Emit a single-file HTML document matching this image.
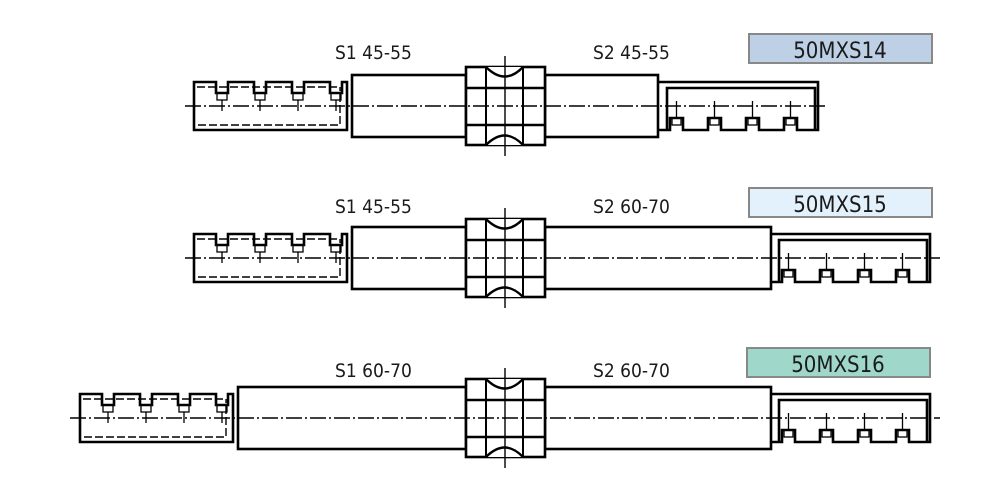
<!DOCTYPE html>
<html><head><meta charset="utf-8"><style>
html,body{margin:0;padding:0;background:#fff;}
svg{display:block}
text{font-family:"DejaVu Sans Condensed","Liberation Sans",sans-serif;fill:#1a1a1a;}
</style></head><body>
<svg width="1000" height="496" viewBox="0 0 1000 496" xmlns="http://www.w3.org/2000/svg">
<defs>
<g id="hub" fill="none" stroke="#000">
  <rect x="466" y="-39" width="79" height="78" stroke-width="2.6" fill="#fff"/>
  <line x1="486" y1="-39" x2="486" y2="39" stroke-width="2"/>
  <line x1="523" y1="-39" x2="523" y2="39" stroke-width="2"/>
  <line x1="466" y1="-18" x2="545" y2="-18" stroke-width="2.4"/>
  <line x1="466" y1="19" x2="545" y2="19" stroke-width="2.4"/>
  <path d="M486,-39 Q505,-20 523,-39" stroke-width="2.4" fill="#fff"/>
  <path d="M486,39 Q505,20 523,39" stroke-width="2.4" fill="#fff"/>
  <line x1="505" y1="-50" x2="505" y2="50" stroke-width="1.4"/>
</g>
<g id="lsp" fill="none" stroke="#000">
  <path d="M194,-24 H216 V-13 H228 V-24 H254 V-13 H266 V-24 H292 V-13 H304 V-24 H330 V-13 H342 V-24 H347 V24 H194 Z" stroke-width="2.6"/>
  <line x1="197" y1="-19" x2="340" y2="-19" stroke-width="1.4" stroke-dasharray="8 3"/>
  <path d="M198,19 H340 V-19" stroke-width="1.4" stroke-dasharray="8 3"/>
  <g stroke-width="1.3">
    <rect x="217" y="-13" width="10" height="7"/><line x1="222" y1="-6" x2="222" y2="5"/>
    <rect x="255" y="-13" width="10" height="7"/><line x1="260" y1="-6" x2="260" y2="5"/>
    <rect x="293" y="-13" width="10" height="7"/><line x1="298" y1="-6" x2="298" y2="5"/>
    <rect x="331" y="-13" width="10" height="7"/><line x1="336" y1="-6" x2="336" y2="5"/>
  </g>
</g>
<g id="rsp" fill="none" stroke="#000">
  <path d="M659,-24 H818 V24 H797 V12 H784 V24 H759 V12 H746 V24 H721 V12 H708 V24 H683 V12 H670 V24 H659" stroke-width="2.6"/>
  <path d="M667,24 V-18 H815 V24" stroke-width="2.6"/>
  <g stroke-width="1.3">
    <rect x="672" y="12" width="9" height="7"/><line x1="676.5" y1="-5" x2="676.5" y2="12"/>
    <rect x="710" y="12" width="9" height="7"/><line x1="714.5" y1="-5" x2="714.5" y2="12"/>
    <rect x="748" y="12" width="9" height="7"/><line x1="752.5" y1="-5" x2="752.5" y2="12"/>
    <rect x="786" y="12" width="9" height="7"/><line x1="790.5" y1="-5" x2="790.5" y2="12"/>
  </g>
</g>
</defs>

<!-- Row 1 -->
<g transform="translate(0,106)">
  <use href="#lsp"/>
  <rect x="352" y="-31" width="114" height="62" fill="#fff" stroke="#000" stroke-width="2.6"/>
  <rect x="545" y="-31" width="113" height="62" fill="#fff" stroke="#000" stroke-width="2.6"/>
  <use href="#rsp"/>
  <use href="#hub"/>
  <line x1="185" y1="0" x2="826" y2="0" stroke="#000" stroke-width="1.5" stroke-dasharray="16 3 2 3"/>
</g>
<text x="335" y="59" font-size="19">S1 45-55</text>
<text x="593" y="59" font-size="19">S2 45-55</text>
<rect x="749" y="34" width="183" height="29" fill="#bdd0e6" stroke="#888" stroke-width="2"/>
<text x="840" y="58" font-size="22" text-anchor="middle">50MXS14</text>

<!-- Row 2 -->
<g transform="translate(0,258)">
  <use href="#lsp"/>
  <rect x="352" y="-31" width="114" height="62" fill="#fff" stroke="#000" stroke-width="2.6"/>
  <rect x="545" y="-31" width="226" height="62" fill="#fff" stroke="#000" stroke-width="2.6"/>
  <use href="#rsp" transform="translate(112,0)"/>
  <use href="#hub"/>
  <line x1="185" y1="0" x2="940" y2="0" stroke="#000" stroke-width="1.5" stroke-dasharray="16 3 2 3"/>
</g>
<text x="335" y="213" font-size="19">S1 45-55</text>
<text x="593" y="213" font-size="19">S2 60-70</text>
<rect x="749" y="188" width="183" height="29" fill="#e3f1fc" stroke="#888" stroke-width="2"/>
<text x="840" y="212" font-size="22" text-anchor="middle">50MXS15</text>

<!-- Row 3 -->
<g transform="translate(0,418)">
  <use href="#lsp" transform="translate(-114,0)"/>
  <rect x="238" y="-31" width="228" height="62" fill="#fff" stroke="#000" stroke-width="2.6"/>
  <rect x="545" y="-31" width="226" height="62" fill="#fff" stroke="#000" stroke-width="2.6"/>
  <use href="#rsp" transform="translate(112,0)"/>
  <use href="#hub"/>
  <line x1="70" y1="0" x2="940" y2="0" stroke="#000" stroke-width="1.5" stroke-dasharray="16 3 2 3"/>
</g>
<text x="335" y="377" font-size="19">S1 60-70</text>
<text x="593" y="377" font-size="19">S2 60-70</text>
<rect x="747" y="348" width="183" height="29" fill="#9fd8cb" stroke="#888" stroke-width="2"/>
<text x="838" y="372" font-size="22" text-anchor="middle">50MXS16</text>
</svg>
</body></html>
